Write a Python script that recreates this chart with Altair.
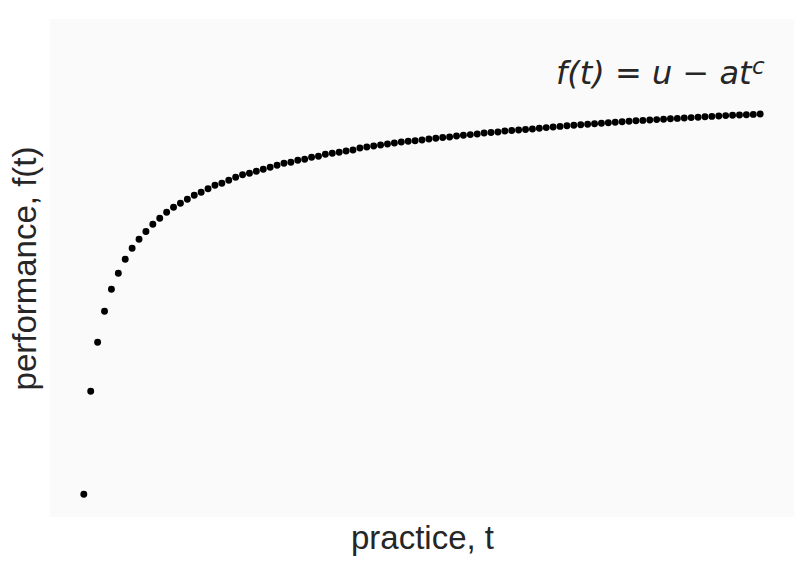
import altair as alt
import pandas as pd

# practice trials t = 1..99
practice = list(range(1, 100))
# performance (arbitrary units, 0 = bottom of plot)
performance = [
    22.7, 125.7, 174.7, 205.7, 227.7, 243.7, 257.7, 268.7, 277.7, 285.5,
    292.7, 298.7, 304.8, 309.7, 313.7, 317.7, 321.7, 324.7, 328.3, 331.7,
    333.7, 336.7, 339.7, 342.3, 343.7, 345.7, 347.7, 349.7, 351.7, 353.7,
    354.7, 356.7, 357.7, 359.7, 360.7, 362.7, 363.8, 364.8, 366.0, 367.0,
    369.0, 370.0, 371.0, 372.0, 373.0, 374.0, 375.0, 375.7, 376.3, 377.0,
    378.0, 378.7, 379.5, 380.0, 381.0, 381.7, 382.4, 383.0, 384.0, 384.5,
    385.0, 386.0, 386.5, 387.0, 387.5, 388.0, 388.7, 389.4, 390.0, 390.6,
    391.2, 391.7, 392.2, 392.7, 393.2, 393.7, 394.2, 394.7, 395.2, 395.7,
    396.2, 396.6, 397.0, 397.4, 397.8, 398.2, 398.6, 399.0, 399.4, 399.8,
    400.2, 400.6, 401.0, 401.4, 401.7, 402.0, 402.3, 402.6, 403.0,
]
formula_main = ["f(t) = u − at"]
formula_sup = ["c"]

df = pd.DataFrame({"t": practice, "f": performance})

TEXT = "#262626"

points = alt.Chart(df).mark_circle(size=48, color="black", opacity=1).encode(
    x=alt.X("t:Q", scale=alt.Scale(domain=[-3.9, 103.9], nice=False, zero=False),
            axis=alt.Axis(title="practice, t", labels=False, ticks=False,
                          domain=False, grid=False, titleFontSize=33,
                          titleFontWeight="normal", titleFont="Liberation Sans",
                          titleColor=TEXT, titleBaseline="alphabetic",
                          titleY=31)),
    y=alt.Y("f:Q", scale=alt.Scale(domain=[0, 498], nice=False, zero=False),
            axis=alt.Axis(title="performance, f(t)", labels=False, ticks=False,
                          domain=False, grid=False, titleFontSize=33,
                          titleFontWeight="normal", titleFont="Liberation Sans",
                          titleColor=TEXT, titleBaseline="alphabetic",
                          titleX=-15, titleY=249)),
)

main = alt.Chart(pd.DataFrame({"label": formula_main})).mark_text(
    font="DejaVu Sans", fontStyle="italic", fontSize=32, color=TEXT,
    align="left", baseline="alphabetic"
).encode(x=alt.value(506), y=alt.value(65), text="label:N")

sup = alt.Chart(pd.DataFrame({"label": formula_sup})).mark_text(
    font="DejaVu Sans", fontStyle="italic", fontSize=23, color=TEXT,
    align="left", baseline="alphabetic"
).encode(x=alt.value(702), y=alt.value(55), text="label:N")

chart = alt.layer(points, main, sup).properties(
    width=744, height=498,
    autosize=alt.AutoSizeParams(type="none"),
    padding={"left": 42, "top": 11, "right": 6, "bottom": 42},
).configure_view(fill="#FAFAFA", stroke=None)

chart.save("out.html", embed_options={"renderer": "svg", "actions": False})
